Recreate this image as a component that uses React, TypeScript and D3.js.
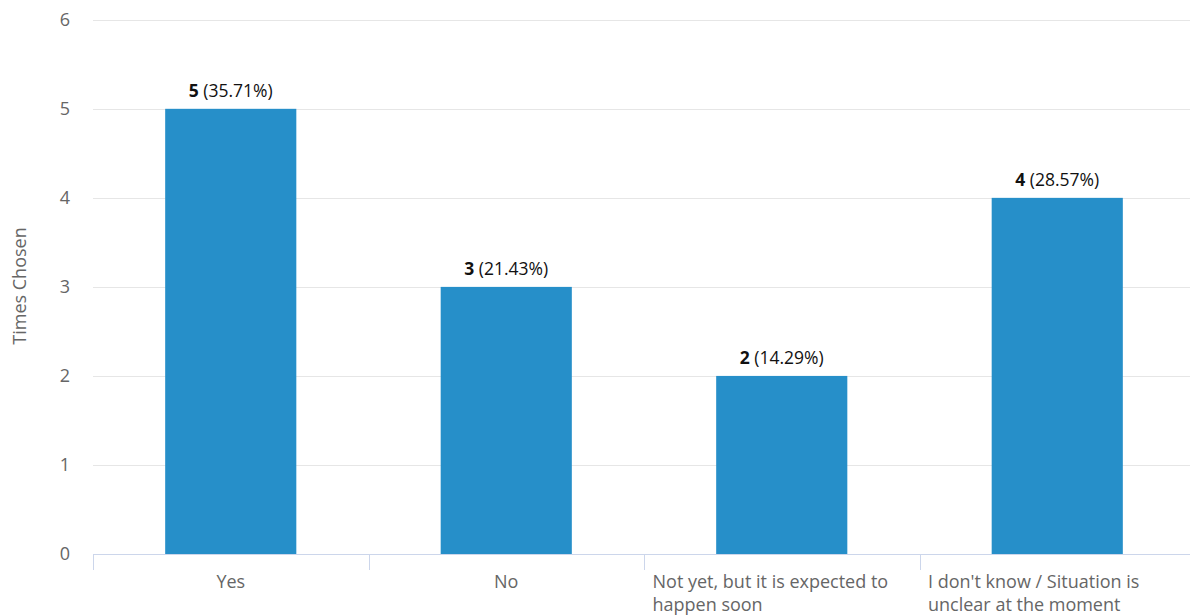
import React from "react";
import * as d3 from "d3";

const categories = [
  "Yes",
  "No",
  "Not yet, but it is expected to happen soon",
  "I don't know / Situation is unclear at the moment",
];
const labelLines = [
  ["Yes"],
  ["No"],
  ["Not yet, but it is expected to", "happen soon"],
  ["I don't know / Situation is", "unclear at the moment"],
];
const counts = [5, 3, 2, 4];
const percents = ["35.71%", "21.43%", "14.29%", "28.57%"];
const yTicks = [0, 1, 2, 3, 4, 5, 6];

const W = 1190;
const H = 616;
const left = 93;
const right = 1195;
const top = 18;
const bottom = 554;
const FONT = "'Open Sans', sans-serif";

export default function App() {
  const x = d3.scaleBand<string>().domain(categories).range([left, right]).padding(0);
  const y = d3.scaleLinear().domain([0, 6.02]).range([bottom, top]);
  const bw = x.bandwidth();
  const barW = bw * 0.476;
  const labelBlock = bw - 17;

  return (
    <div style={{ position: "absolute", left: 0, top: 0, width: W, height: H, overflow: "hidden" }}>
      <svg width={W} height={H} style={{ display: "block", fontFamily: FONT }}>
        <rect x={0} y={0} width={W} height={H} fill="#ffffff" />
        {yTicks.map((t) => (
          <g key={t}>
            {t > 0 && (
              <line x1={left} x2={right} y1={Math.round(y(t)) + 0.5} y2={Math.round(y(t)) + 0.5} stroke="#e6e6e6" strokeWidth={1} />
            )}
            <text x={70} y={y(t)} dy="0.35em" textAnchor="end" fontSize={18} fill="#666666">
              {t}
            </text>
          </g>
        ))}
        <text
          transform={`translate(26, ${(top + bottom) / 2}) rotate(-90)`}
          textAnchor="middle"
          fontSize={18}
          fill="#666666"
        >
          Times Chosen
        </text>
        {categories.map((c, i) => {
          const cx = (x(c) as number) + bw / 2;
          return (
            <g key={c}>
              <rect x={cx - barW / 2} y={y(counts[i])} width={barW} height={bottom - y(counts[i])} fill="#268fc9" />
              <text x={cx} y={y(counts[i]) - 12} textAnchor="middle" fontSize={17.5} fill="#111111">
                <tspan fontWeight="bold">{counts[i]}</tspan>
                <tspan> ({percents[i]})</tspan>
              </text>
            </g>
          );
        })}
        <line x1={left} x2={right} y1={bottom + 0.5} y2={bottom + 0.5} stroke="#ccd6eb" strokeWidth={1} />
        {categories.map((c) => (
          <line
            key={"t" + c}
            x1={Math.round(x(c) as number) + 0.5}
            x2={Math.round(x(c) as number) + 0.5}
            y1={bottom}
            y2={bottom + 16}
            stroke="#ccd6eb"
            strokeWidth={1}
          />
        ))}
        {categories.map((c, i) => {
          const cx = (x(c) as number) + bw / 2;
          const lines = labelLines[i];
          const multi = lines.length > 1;
          return (
            <text
              key={"l" + c}
              x={multi ? cx - labelBlock / 2 : cx}
              y={588}
              textAnchor={multi ? "start" : "middle"}
              fontSize={18}
              fill="#666666"
            >
              {lines.map((ln, j) => (
                <tspan key={j} x={multi ? cx - labelBlock / 2 : cx} dy={j === 0 ? 0 : 23}>
                  {ln}
                </tspan>
              ))}
            </text>
          );
        })}
      </svg>
    </div>
  );
}
